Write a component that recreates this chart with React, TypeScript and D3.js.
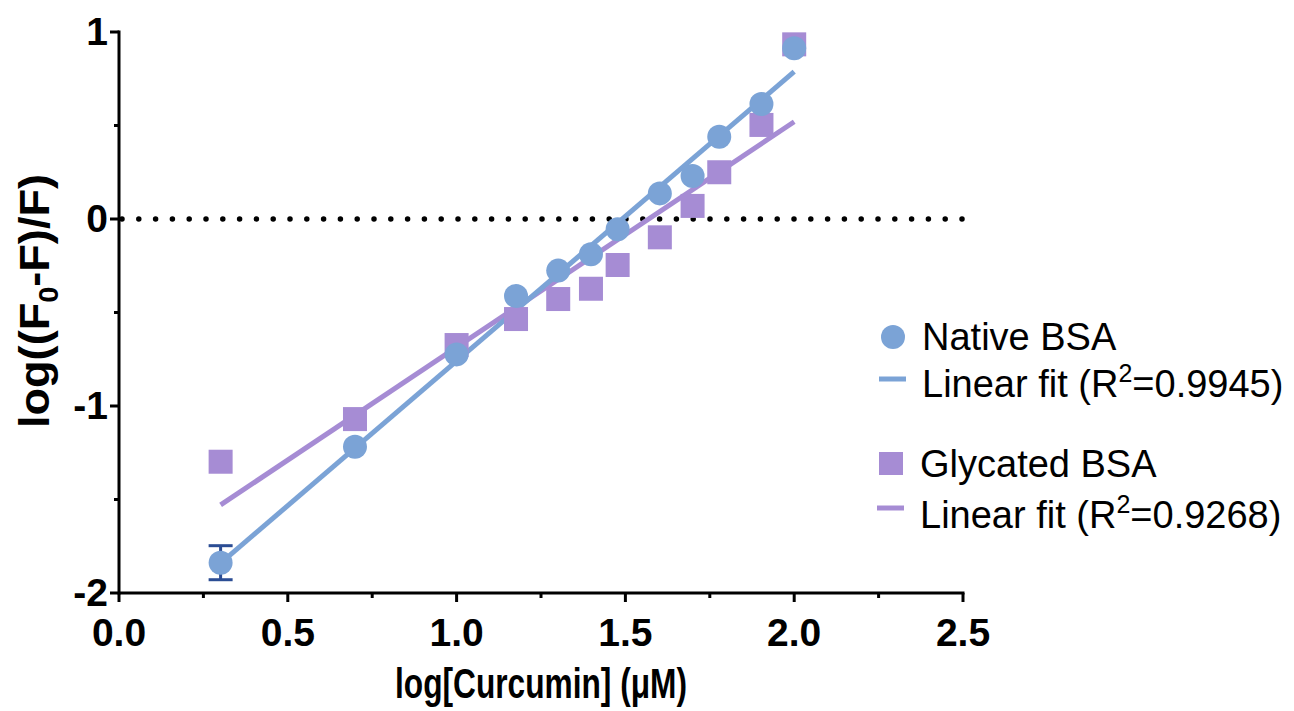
import React from 'react';
import * as d3 from 'd3';

// log10 of curcumin concentration (uM)
const logConc = [0.301, 0.699, 1.0, 1.176, 1.301, 1.398, 1.477, 1.602, 1.699, 1.778, 1.903, 2.0];
const nativeVals = [-1.838, -1.218, -0.724, -0.412, -0.276, -0.189, -0.055, 0.137, 0.23, 0.44, 0.615, 0.913];
const glycatedVals = [-1.298, -1.07, -0.674, -0.535, -0.428, -0.373, -0.246, -0.098, 0.07, 0.25, 0.503, 0.934];
const nativeErr = [0.091, 0, 0, 0, 0, 0, 0, 0, 0, 0, 0, 0];
// linear fits: [slope, intercept]
const nativeFit = [1.547, -2.306];
const glycatedFit = [1.206, -1.892];
const fitRange = [0.301, 2.0];
const xTicks = [0, 0.5, 1.0, 1.5, 2.0, 2.5];
const xMinor = [0.25, 0.75, 1.25, 1.75, 2.25];
const yTicks = [-2, -1, 0, 1];
const yMinor = [-1.5, -0.5, 0.5];

const BLUE = '#7ba3d6';
const PURPLE = '#a68cd4';
const ERR = '#2b4d94';
const FONT = '"Liberation Sans", Arial, Helvetica, sans-serif';

export default function App() {
  const W = 1294, H = 711;
  const x = d3.scaleLinear().domain([0, 2.5]).range([119, 963]);
  const y = d3.scaleLinear().domain([-2, 1]).range([593, 32]);

  const fitLine = (f: number[]) =>
    d3.line<number>().x(d => x(d)).y(d => y(f[0] * d + f[1]))(fitRange);

  const sq = 24;

  return (
    <svg width={W} height={H} style={{ position: 'absolute', left: 0, top: 0, background: '#fff' }}
      fontFamily={FONT}>
      {/* zero line */}
      <line x1={x(0) + 3} x2={x(2.5)} y1={y(0)} y2={y(0)} stroke="#000" strokeWidth={5.5}
        strokeLinecap="round" strokeDasharray="0 16.8" />

      {/* fits */}
      <path d={fitLine(glycatedFit) || ''} stroke={PURPLE} strokeWidth={5} fill="none" />
      <path d={fitLine(nativeFit) || ''} stroke={BLUE} strokeWidth={5} fill="none" />

      {/* error bars */}
      {logConc.map((c, i) => nativeErr[i] > 0 && (
        <g key={'e' + i} stroke={ERR} strokeWidth={3}>
          <line x1={x(c)} x2={x(c)} y1={y(nativeVals[i] - nativeErr[i])} y2={y(nativeVals[i] + nativeErr[i])} />
          <line x1={x(c) - 12} x2={x(c) + 12} y1={y(nativeVals[i] + nativeErr[i])} y2={y(nativeVals[i] + nativeErr[i])} />
          <line x1={x(c) - 12} x2={x(c) + 12} y1={y(nativeVals[i] - nativeErr[i])} y2={y(nativeVals[i] - nativeErr[i])} />
        </g>
      ))}

      {/* glycated squares */}
      {logConc.map((c, i) => (
        <rect key={'s' + i} x={x(c) - sq / 2} y={y(glycatedVals[i]) - sq / 2} width={sq} height={sq} fill={PURPLE} />
      ))}
      {/* native circles */}
      {logConc.map((c, i) => (
        <circle key={'c' + i} cx={x(c)} cy={y(nativeVals[i])} r={12} fill={BLUE} />
      ))}

      {/* axes */}
      <g stroke="#000" strokeWidth={3}>
        <line x1={x(0)} x2={x(0)} y1={y(1) - 1.5} y2={y(-2) + 1.5} />
        <line x1={x(0)} x2={x(2.5) + 1.5} y1={y(-2)} y2={y(-2)} />
        {yTicks.map(t => <line key={'yt' + t} x1={x(0) - 9} x2={x(0)} y1={y(t)} y2={y(t)} />)}
        {yMinor.map(t => <line key={'ym' + t} x1={x(0) - 5} x2={x(0)} y1={y(t)} y2={y(t)} />)}
        {xTicks.map(t => <line key={'xt' + t} x1={x(t)} x2={x(t)} y1={y(-2)} y2={y(-2) + 9} />)}
        {xMinor.map(t => <line key={'xm' + t} x1={x(t)} x2={x(t)} y1={y(-2)} y2={y(-2) + 5} />)}
      </g>

      <g fontSize={39} fontWeight="bold" fill="#000">
        {yTicks.map(t => (
          <text key={'yl' + t} x={x(0) - 11} y={y(t) + 13} textAnchor="end">{d3.format('d')(t).replace('−', '-')}</text>
        ))}
        {xTicks.map(t => (
          <text key={'xl' + t} x={x(t)} y={646} textAnchor="middle">{d3.format('.1f')(t)}</text>
        ))}
      </g>

      {/* axis titles */}
      <text x={541} y={698} textAnchor="middle" fontSize={43} fontWeight="bold"
        textLength={292} lengthAdjust="spacingAndGlyphs">log[Curcumin] (μM)</text>
      <text transform="translate(49,301) rotate(-90)" textAnchor="middle" fontSize={42} fontWeight="bold"
        textLength={254} lengthAdjust="spacingAndGlyphs">
        log((F<tspan fontSize={27} dy={9}>0</tspan><tspan dy={-9}>-F)/F)</tspan>
      </text>

      {/* legend */}
      <g fontSize={38} fill="#000">
        <circle cx={893} cy={337} r={12} fill={BLUE} />
        <text x={922} y={350}>Native BSA</text>
        <line x1={879} x2={906} y1={379} y2={379} stroke={BLUE} strokeWidth={5} />
        <text x={922} y={397}>Linear fit (R<tspan fontSize={25} dy={-15}>2</tspan><tspan dy={15}>=0.9945)</tspan></text>

        <rect x={879} y={452} width={24} height={23} fill={PURPLE} />
        <text x={920} y={477}>Glycated BSA</text>
        <line x1={877} x2={904} y1={508} y2={508} stroke={PURPLE} strokeWidth={5} />
        <text x={920} y={528}>Linear fit (R<tspan fontSize={25} dy={-15}>2</tspan><tspan dy={15}>=0.9268)</tspan></text>
      </g>
    </svg>
  );
}
